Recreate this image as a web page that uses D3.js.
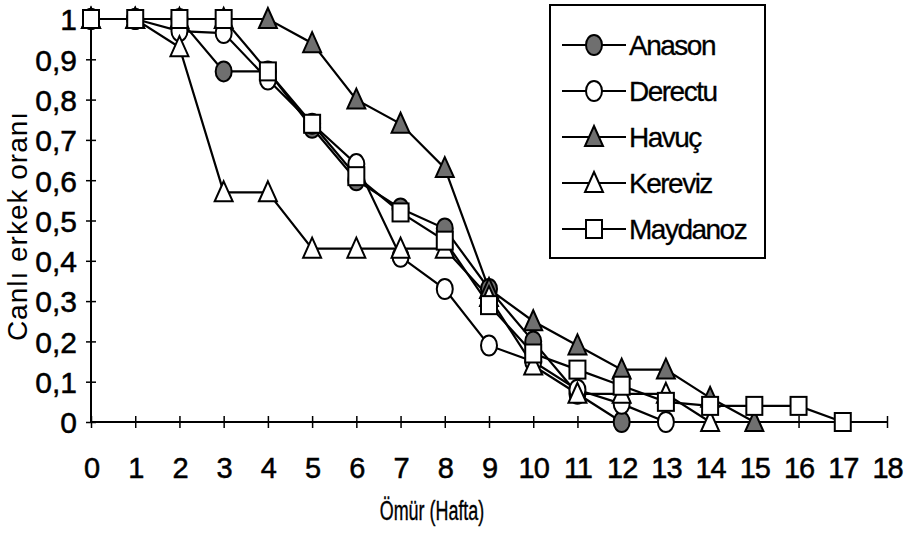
<!DOCTYPE html>
<html lang="tr">
<head>
    <meta charset="utf-8">
    <title>Canlı erkek oranı</title>
    <script src="https://d3js.org/d3.v7.min.js"></script>
    <style>
        body { margin: 0; background: #fff; }
        text { font-family: "Liberation Sans", Arial, sans-serif; fill: #000; }
    </style>
</head>
<body>

<script>
    // weeks (x) and survival proportions per plant
    const weeks = d3.range(0, 19);
    const yTicks = [0, 0.1, 0.2, 0.3, 0.4, 0.5, 0.6, 0.7, 0.8, 0.9, 1];

    const anason   = [1, 1, 1, 0.87, 0.87, 0.73, 0.60, 0.53, 0.48, 0.33, 0.20, 0.07, 0];
    const derectu  = [1, 1, 0.97, 0.965, 0.85, 0.74, 0.64, 0.41, 0.33, 0.19, 0.15, 0.08, 0.045, 0];
    const havuc    = [1, 1, 1, 1, 1, 0.94, 0.80, 0.74, 0.63, 0.33, 0.25, 0.19, 0.13, 0.13, 0.06, 0];
    const kereviz  = [1, 1, 0.93, 0.57, 0.57, 0.43, 0.43, 0.43, 0.43, 0.31, 0.14, 0.07, 0.07, 0.07, 0];
    const maydanoz = [1, 1, 1, 1, 0.87, 0.74, 0.61, 0.52, 0.45, 0.29, 0.17, 0.13, 0.09, 0.05, 0.04, 0.04, 0.04, 0];

    const seriesNames = ["Anason", "Derectu", "Havuç", "Kereviz", "Maydanoz"];
    const seriesValues = [anason, derectu, havuc, kereviz, maydanoz];
    const seriesMarker = ["circle", "circle", "triangle", "triangle", "square"];
    const seriesFilled = [true, false, true, false, false];

    const series = seriesNames.map((name, i) => ({
        name: name,
        marker: seriesMarker[i],
        filled: seriesFilled[i],
        points: seriesValues[i].map((v, w) => ({ w: w, v: v }))
    }));

    const width = 909, height = 539;
    const grey = "#6f6f6f";

    const x = d3.scaleLinear().domain([0, 18]).range([91, 887]);
    const y = d3.scaleLinear().domain([0, 1]).range([422, 19]);

    const svg = d3.select("body").append("svg")
            .attr("width", width).attr("height", height);

    // axes
    const xAxis = svg.append("g")
            .attr("transform", `translate(0,${y(0)})`)
            .call(d3.axisBottom(x).tickValues(weeks).tickSize(6).tickFormat(d3.format("d")));
    xAxis.select(".domain").attr("stroke", "#000").attr("stroke-width", 2).attr("d", `M${x(0)},0H${x(18)}`);
    xAxis.selectAll(".tick line").attr("y1", -6).attr("y2", 6).attr("stroke-width", 1.5);
    xAxis.selectAll(".tick text")
            .attr("y", 56).attr("dy", 0)
            .style("font-size", "29px")
            .attr("letter-spacing", "-1")
            .attr("stroke", "#000").attr("stroke-width", 0.5);

    const yAxis = svg.append("g")
            .attr("transform", `translate(${x(0)},0)`)
            .call(d3.axisLeft(y).tickValues(yTicks).tickSize(5)
                    .tickFormat(d => d === 0 || d === 1 ? String(d) : d3.format(".1f")(d).replace(".", ",")));
    yAxis.select(".domain").attr("stroke", "#000").attr("stroke-width", 2).attr("d", `M0,${y(0)}V${y(1)}`);
    yAxis.selectAll(".tick line").attr("x1", -5).attr("x2", 5).attr("stroke-width", 1.5);
    yAxis.selectAll(".tick text")
            .attr("x", -14).attr("dy", "0.36em")
            .style("font-size", "30px")
            .attr("stroke", "#000").attr("stroke-width", 0.5);

    // axis titles
    svg.append("text")
            .attr("transform", "translate(432,520) scale(0.64,1)")
            .attr("text-anchor", "middle")
            .style("font-size", "28px")
            .attr("stroke", "#000").attr("stroke-width", 0.4)
            .text("Ömür (Hafta)");

    svg.append("text")
            .attr("transform", "translate(27,226) rotate(-90)")
            .attr("text-anchor", "middle")
            .style("font-size", "28px")
            .attr("letter-spacing", "1")
            .text("Canlı erkek oranı");

    // marker drawing
    function drawMarker(g, type, filled, cx, cy) {
        const fill = filled ? grey : "#fff";
        if (type === "circle") {
            g.append("ellipse").attr("cx", cx).attr("cy", cy).attr("rx", 8).attr("ry", 10)
                    .attr("fill", fill).attr("stroke", "#000").attr("stroke-width", 2);
        } else if (type === "square") {
            g.append("rect").attr("x", cx - 8).attr("y", cy - 9).attr("width", 16).attr("height", 18)
                    .attr("fill", fill).attr("stroke", "#000").attr("stroke-width", 2);
        } else {
            g.append("path")
                    .attr("d", `M${cx},${cy - 11}L${cx + 9},${cy + 9}L${cx - 9},${cy + 9}Z`)
                    .attr("fill", fill).attr("stroke", "#000").attr("stroke-width", 2);
        }
    }

    const line = d3.line().x(d => x(d.w)).y(d => y(d.v));

    const lines = svg.append("g");
    series.forEach(s => {
        lines.append("path").datum(s.points)
                .attr("d", line)
                .attr("fill", "none")
                .attr("stroke", "#000")
                .attr("stroke-width", 2.2);
    });

    const markers = svg.append("g");
    series.forEach(s => {
        s.points.forEach(p => drawMarker(markers, s.marker, s.filled, x(p.w), y(p.v)));
    });

    // legend
    const legend = svg.append("g");
    legend.append("rect")
            .attr("x", 550).attr("y", 5).attr("width", 215).attr("height", 253)
            .attr("fill", "#fff").attr("stroke", "#000").attr("stroke-width", 2);

    series.forEach((s, i) => {
        const ly = 45 + i * 46;
        legend.append("line").attr("x1", 562).attr("x2", 626).attr("y1", ly).attr("y2", ly)
                .attr("stroke", "#000").attr("stroke-width", 2);
        drawMarker(legend, s.marker, s.filled, 594, ly);
        legend.append("text")
                .attr("x", 629).attr("y", ly).attr("dy", "0.36em")
                .style("font-size", "28px")
                .attr("letter-spacing", "-1.5")
                .attr("stroke", "#000").attr("stroke-width", 0.3)
                .text(s.name);
    });
</script>

</body>
</html>
